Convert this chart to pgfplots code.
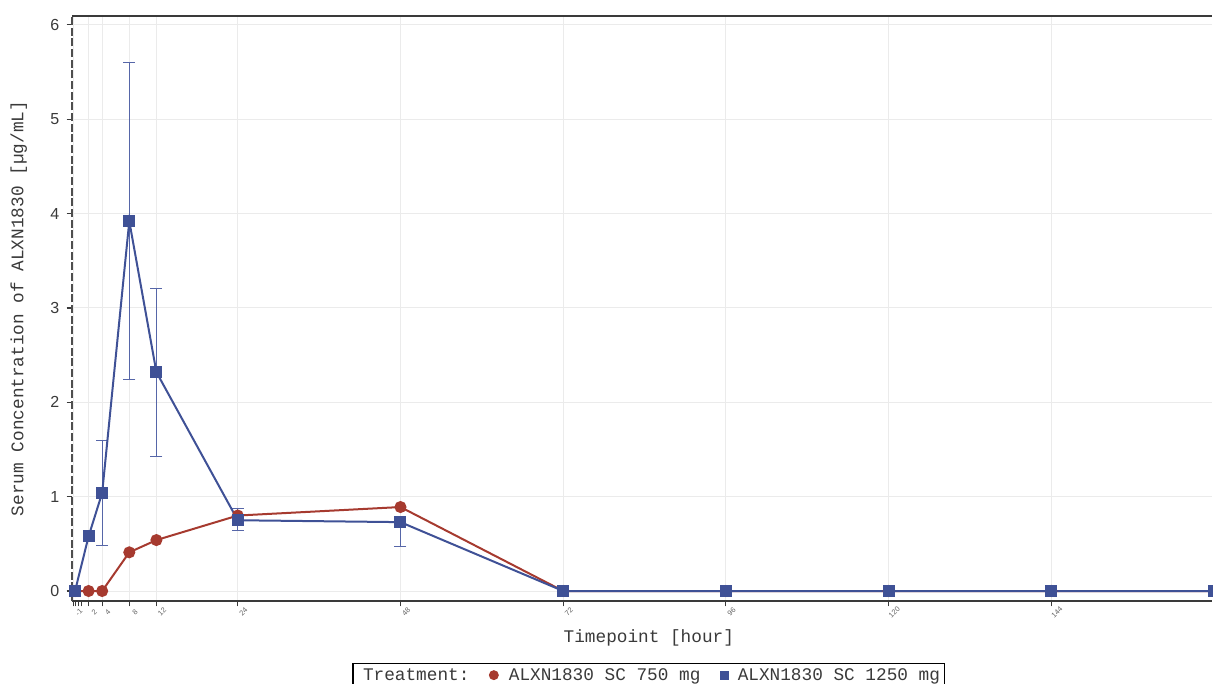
\documentclass[border=0pt]{standalone}
\usepackage{fontspec}
\usepackage{pgfplots}
\pgfplotsset{compat=1.18}
\usepackage{pgfplotstable}
\newfontfamily\mono{Liberation Mono}
\newfontfamily\sans{Liberation Sans}
\definecolor{redc}{HTML}{A63A2F}
\definecolor{bluec}{HTML}{3F5196}
\definecolor{errc}{HTML}{5666A8}
\definecolor{gridc}{HTML}{EBEBEB}
\definecolor{txt}{HTML}{3A3A3A}

\pgfplotstableread{
x y
0 0
2 0
4 0
8 0.41
12 0.54
24 0.80
48 0.89
72 0
96 0
120 0
144 0
168 0
}\lowdose

\pgfplotstableread{
x y
0 0
2 0.58
4 1.04
8 3.92
12 2.32
24 0.75
48 0.73
72 0
96 0
120 0
144 0
168 0
}\highdose

\pgfplotstableread{
x y ep em
4 1.04 0.56 0.56
8 3.92 1.68 1.68
12 2.32 0.89 0.89
24 0.75 0.12 0.11
}\higherr

\pgfplotstableread{
x y ep em
48 0.73 0 0.26
}\higherrlow

\begin{document}
\begin{tikzpicture}
\path[use as bounding box] (-54pt,-61.5pt) rectangle (855.75pt,450.75pt);
\begin{axis}[
  at={(0,0)}, anchor=south west,
  scale only axis,
  width=855pt, height=438.75pt,
  xmin=-0.45, xmax=167.7,
  ymin=-0.106, ymax=6.095,
  axis x line*=bottom,
  axis y line*=left,
  x axis line style={draw=txt, line width=0.8pt, -},
  y axis line style={draw=txt!90, line width=1.2pt, dashed, dash pattern=on 6pt off 2pt, -},
  tick align=outside,
  major tick length=4pt,
  tick style={draw=txt, line width=0.8pt},
  xtick={-0.25,2,4,8,12,24,48,72,96,120,144,168},
  xticklabels={-1,2,4,8,12,24,48,72,96,120,144,168},
  extra x ticks={0,0.5,1},
  extra x tick labels={},
  extra x tick style={grid=none},
  ytick={0,1,2,3,4,5,6},
  grid=major,
  major grid style={draw=gridc, line width=0.75pt},
  /pgf/number format/assume math mode=true,
  yticklabel style={font=\sans\fontsize{12}{13}\selectfont, text=txt, xshift=-2pt},
  xticklabel style={font=\sans\fontsize{5.5}{5.5}\selectfont, text=txt!80, rotate=45, anchor=center, yshift=-6pt},
  xlabel={Timepoint [hour]},
  ylabel={Serum Concentration of ALXN1830 [µg/mL]},
  label style={font=\mono\fontsize{13.3}{15}\selectfont, text=txt},
  xlabel style={at={(axis description cs:0.506,0)}, anchor=center, yshift=-27.75pt},
  ylabel style={at={(axis description cs:0,0.5)}, anchor=center, xshift=0pt, yshift=40pt},
  legend columns=-1,
  legend style={at={(0.506,-0.106)}, anchor=north, draw=black, line width=0.8pt,
    font=\mono\fontsize{13.3}{15}\selectfont, text=txt, inner sep=1.5pt,
    /tikz/every even column/.append style={column sep=13pt}},
  clip=false,
]
\addlegendimage{empty legend}
\addlegendentry{\hspace{4pt}Treatment:\hspace{6pt}}
\addlegendimage{only marks, mark=*, color=redc, mark size=3.3pt}
\addlegendentry{\hspace{6pt}ALXN1830 SC 750 mg}
\addlegendimage{only marks, mark=square*, color=bluec, mark size=3pt}
\addlegendentry{\hspace{5pt}ALXN1830 SC 1250 mg\hspace{4pt}}

\addplot[forget plot, color=redc, line width=1.5pt, mark=*, mark size=3.75pt] table[x=x,y=y] {\lowdose};

\addplot[forget plot, draw=none, mark=none,
  error bars/.cd, y dir=both, y explicit,
  error bar style={color=errc, line width=0.75pt},
  error mark options={rotate=90, mark size=4.5pt, color=errc, line width=0.75pt}]
  table[x=x, y=y, y error plus=ep, y error minus=em] {\higherr};
\addplot[forget plot, draw=none, mark=none,
  error bars/.cd, y dir=minus, y explicit,
  error bar style={color=errc, line width=0.75pt},
  error mark options={rotate=90, mark size=4.5pt, color=errc, line width=0.75pt}]
  table[x=x, y=y, y error plus=ep, y error minus=em] {\higherrlow};

\addplot[forget plot, color=bluec, line width=1.5pt, mark=square*, mark size=3.75pt] table[x=x,y=y] {\highdose};

\draw[txt, line width=1.5pt] (rel axis cs:0,1) -- (rel axis cs:1,1);
\end{axis}
\end{tikzpicture}
\end{document}
